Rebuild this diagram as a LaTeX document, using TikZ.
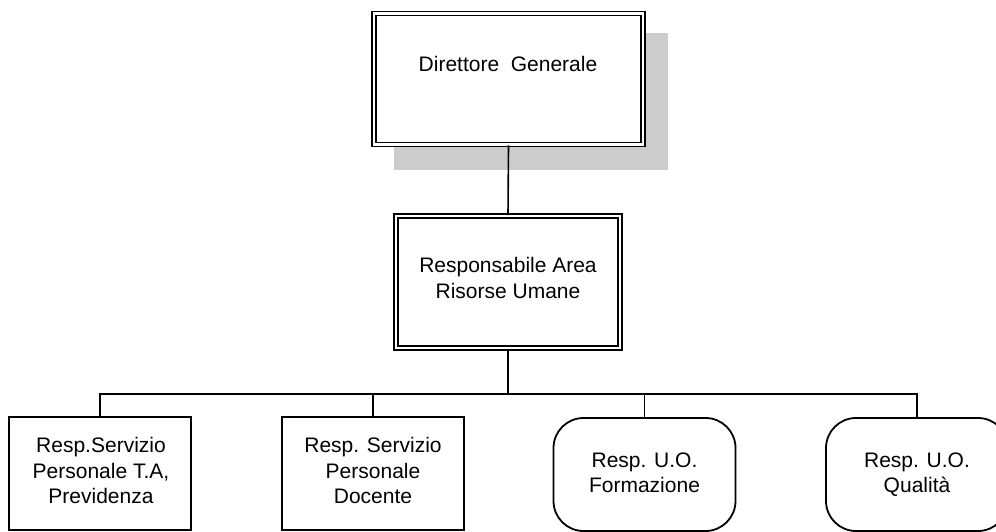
\documentclass[tikz,border=0pt]{standalone}
\usepackage{fontspec}
\setmainfont{Liberation Sans}
\begin{document}
\begin{tikzpicture}[x=1pt,y=-1pt,
  txt/.style={font=\fontsize{21}{26}\selectfont, inner sep=0pt, anchor=base},
  sqbox/.style={draw, line width=1.8pt, fill=white, minimum width=182pt, minimum height=113pt, inner sep=0pt},
  rndbox/.style={sqbox, rounded corners=30pt},
  dblbox/.style={draw, line width=1.6pt, double=white, double distance=2.4pt, fill=white, inner sep=0pt},
  conn/.style={line width=1.6pt},
  shadowfill/.style={fill=black!20, draw=none}
]
\useasboundingbox (0,0) rectangle (996,532);
\clip (0,0) rectangle (996,532);
\fill[white] (0,0) rectangle (996,532);

% shadow of top box
\path[shadowfill] (394,33) rectangle (668,170);

% boxes
\node[dblbox, minimum width=269pt, minimum height=131pt] (dg) at (508.5,79) {};
\node[dblbox, minimum width=223.5pt, minimum height=132pt] (ra) at (508,282) {};
\node[sqbox] (b1) at (100,473.5) {};
\node[sqbox] (b2) at (373,473.5) {};
\node[rndbox] (b3) at (644.5,474.5) {};
\node[rndbox] (b4) at (917,474.5) {};

% texts
\node[txt] (dgt) at (508,72) {Direttore~~Generale};
\node[txt] (rat1) at (508,272) {Responsabile Area};
\node[txt] (rat2) at (508,298) {Risorse Umane};
\node[txt] (b1t1) at (101,452.5) {Resp.Servizio};
\node[txt] (b1t2) at (101,478) {Personale T.A,};
\node[txt] (b1t3) at (101,503.5) {Previdenza};
\node[txt] (b2t1) at (373,452.5) {Resp. Servizio};
\node[txt] (b2t2) at (373,478) {Personale};
\node[txt] (b2t3) at (373,503.5) {Docente};
\node[txt] (b3t1) at (644.5,467) {Resp. U.O.};
\node[txt] (b3t2) at (644.5,492.5) {Formazione};
\node[txt] (b4t1) at (917,467) {Resp. U.O.};
\node[txt] (b4t2) at (917,492.5) {Qualità};

% connectors
\coordinate (bus) at (508,394);
\draw[conn] (dg.south) -- (ra.north);
\draw[line width=2.2pt] (ra.south) -- (bus);
\draw[conn] (b1.north) |- (bus) -| (b4.north);
\draw[conn] (b2.north) -- (b2.north |- bus);
\draw[conn] (b3.north) -- (b3.north |- bus);
\end{tikzpicture}
\end{document}
